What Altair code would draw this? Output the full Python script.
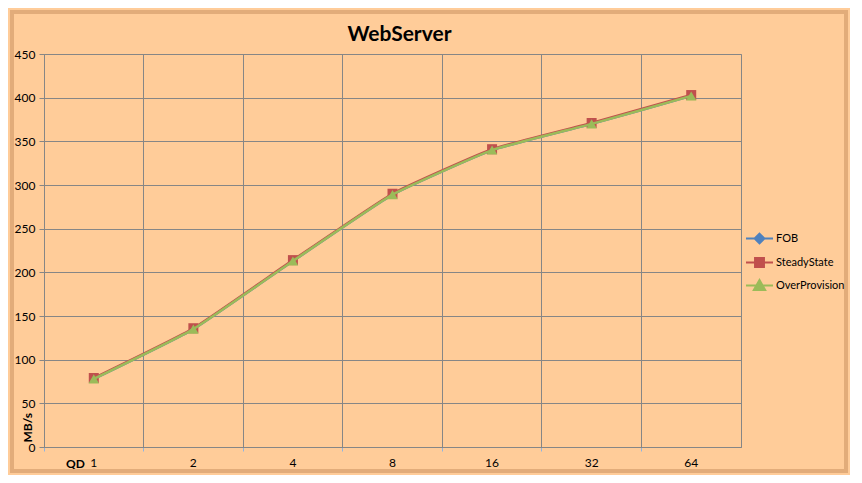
import altair as alt
import pandas as pd

qd = ["1", "2", "4", "8", "16", "32", "64"]
series = ["FOB", "SteadyState", "OverProvision"]
fob = [78, 135, 213, 289, 340, 370, 402]
steady = [79, 136, 214, 290, 341, 371, 403]
over = [78, 135, 213, 289, 340, 370, 402]
colors = ["#4F81BD", "#C0504D", "#9BBB59"]
plot_shapes = ["diamond", "square", "triangle-up"]
plot_sizes = [70, 100, 110]
legend_paths = [
    "M-1,0L1,0M0,-0.36L0.36,0L0,0.36L-0.36,0Z",
    "M-1,0L1,0M-0.33,-0.33L0.33,-0.33L0.33,0.33L-0.33,0.33Z",
    "M-1,0L1,0M0,-0.4L0.42,0.34L-0.42,0.34Z",
]

rows = []
for s, vals in zip(series, [fob, steady, over]):
    for q, v in zip(qd, vals):
        rows.append({"QD": q, "series": s, "value": v})
df = pd.DataFrame(rows)

W, H = 697, 393
FONT = "Lato"
GRID = "#868686"

xenc = alt.X(
    "QD:O", sort=qd,
    scale=alt.Scale(type="band", paddingInner=0, paddingOuter=0),
    axis=alt.Axis(
        bandPosition=0, grid=True, gridColor=GRID, gridWidth=1,
        labelAngle=0, labelFontSize=12, labelFont=FONT,
        labelColor="#000000", labelPadding=6,
        tickColor="#8EB4E3", tickSize=4, domainColor=GRID,
        title="QD", titleFontWeight="bold", titleFontSize=12, titleFont=FONT,
        titleX=31, titleY=11, titleAlign="center", titleBaseline="top",
    ),
)
yenc = alt.Y(
    "value:Q",
    scale=alt.Scale(domain=[0, 450], nice=False),
    axis=alt.Axis(
        values=list(range(0, 451, 50)), grid=True, gridColor=GRID, gridWidth=1,
        tickColor=GRID, tickSize=5, domainColor=GRID,
        labelFontSize=12, labelFont=FONT, labelColor="#000000", labelPadding=4,
        title="MB/s", titleFontWeight="bold", titleFontSize=12, titleFont=FONT,
        titleAngle=270, titleX=-17, titleY=388, titleAlign="left",
        titleBaseline="middle",
    ),
)

layers = []
for i, s in enumerate(series):
    sub = df[df.series == s]
    layers.append(
        alt.Chart(sub).mark_line(strokeWidth=2.5, interpolate="cardinal", tension=0.6,
                                 color=colors[i])
        .encode(x=xenc, y=yenc)
    )
    layers.append(
        alt.Chart(sub).mark_point(filled=True, opacity=1, size=plot_sizes[i],
                                  shape=plot_shapes[i], color=colors[i])
        .encode(x=xenc, y=yenc)
    )

legend_layer = alt.Chart(df).mark_point(filled=True, size=0, opacity=1).encode(
    x=xenc, y=yenc,
    fill=alt.Fill("series:N", scale=alt.Scale(domain=series, range=colors), title=None,
                  legend=alt.Legend(orient="none", legendX=701, legendY=170,
                                    symbolSize=729, symbolStrokeWidth=2,
                                    symbolOpacity=1,
                                    labelFontSize=11, labelFont=FONT, labelOffset=2,
                                    rowPadding=-3, labelColor="#000000")),
    stroke=alt.Stroke("series:N", scale=alt.Scale(domain=series, range=colors), title=None),
    shape=alt.Shape("series:N", scale=alt.Scale(domain=series, range=legend_paths), title=None),
)

frame = alt.Chart(pd.DataFrame({"a": [0]})).mark_rect(
    fill=None, stroke="#E2AC7A", strokeWidth=4
).encode(x=alt.value(-32), x2=alt.value(W + 105), y=alt.value(-42), y2=alt.value(H + 24))

chart = alt.layer(frame, *layers, legend_layer).properties(
    width=W, height=H,
    title=alt.TitleParams("WebServer", fontSize=21, fontWeight="bold", font=FONT,
                          anchor="middle", dx=7, dy=45, offset=10, frame="group",
                          color="#000000"),
    padding={"left": 36, "top": 46, "right": 109, "bottom": 28},
    autosize=alt.AutoSizeParams(type="none"),
    background="#FFCC99",
).configure_view(fill="#FFCC99", stroke=GRID, strokeWidth=1)

chart.save("out.html", embed_options={"renderer": "svg", "actions": False})
